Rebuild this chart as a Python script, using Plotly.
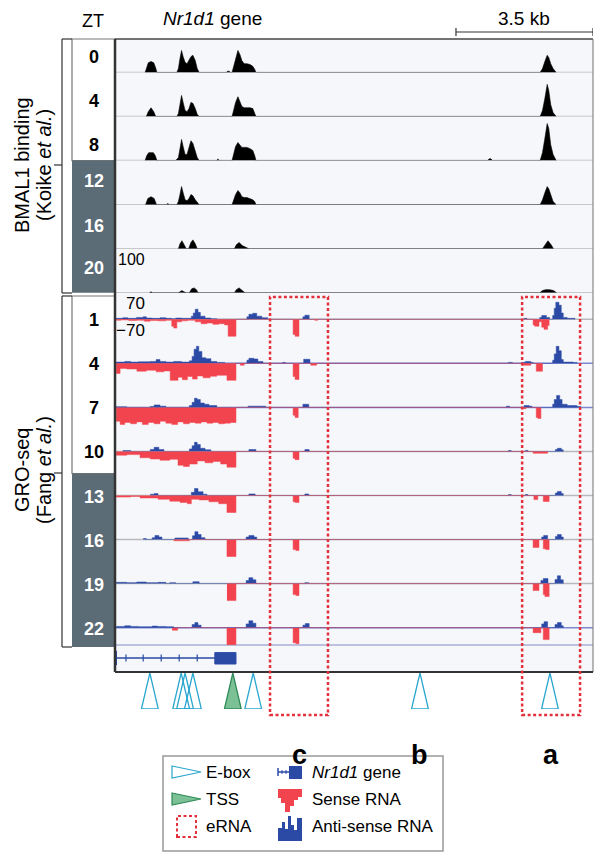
import plotly.graph_objects as go

W, H = 604, 864
PAGE_OFF = 8                      # default page body margin around the figure
FIG_W, FIG_H = W - PAGE_OFF, H - PAGE_OFF
FONT = "Liberation Sans, Arial, Helvetica, sans-serif"

# ------------------------------------------------------------------ data
KB_SPAN = 12.21          # genomic window shown (kb)
SCALE_BAR_KB = 3.5
BMAL_MAX = 100
GRO_MAX = 70

BMAL_ZT = ["0", "4", "8", "12", "16", "20"]
GRO_ZT = ["1", "4", "7", "10", "13", "16", "19", "22"]

# BMAL1 ChIP-seq profiles: (position kb, signal)
BMAL_ZT0 = [(0.77, 0), (0.80, 10), (0.85, 22), (0.92, 25), (0.99, 22), (1.04, 10), (1.07, 0),
            (1.58, 0), (1.62, 9), (1.66, 32), (1.70, 50), (1.74, 36), (1.79, 23), (1.84, 20), (1.89, 27),
            (1.94, 36), (1.99, 39), (2.05, 27), (2.10, 9), (2.15, 0),
            (2.86, 0), (2.87, 3), (2.92, 3), (2.93, 0),
            (2.99, 0), (3.03, 14), (3.08, 32), (3.14, 50), (3.19, 41), (3.24, 27), (3.30, 20), (3.37, 20),
            (3.45, 18), (3.52, 14), (3.57, 7), (3.60, 0),
            (10.86, 0), (10.92, 9), (10.98, 25), (11.04, 39), (11.08, 34), (11.13, 20), (11.19, 9), (11.27, 0)]
BMAL_ZT4 = [(0.80, 0), (0.85, 11), (0.92, 20), (0.99, 11), (1.04, 0),
            (1.58, 0), (1.62, 7), (1.66, 27), (1.70, 48), (1.74, 32), (1.79, 14), (1.84, 11), (1.89, 18),
            (1.94, 32), (1.99, 30), (2.05, 18), (2.10, 5), (2.15, 0),
            (2.99, 0), (3.03, 14), (3.08, 32), (3.14, 45), (3.19, 34), (3.24, 23), (3.30, 20), (3.37, 20),
            (3.45, 20), (3.52, 18), (3.57, 9), (3.60, 0),
            (10.86, 0), (10.92, 14), (10.98, 41), (11.04, 73), (11.08, 59), (11.13, 27), (11.19, 9), (11.27, 0)]
BMAL_ZT8 = [(0.77, 0), (0.81, 11), (0.86, 18), (0.92, 18), (0.98, 18), (1.03, 11), (1.07, 0),
            (1.55, 0), (1.62, 7), (1.66, 27), (1.70, 48), (1.74, 32), (1.79, 14), (1.84, 14), (1.89, 32),
            (1.94, 45), (1.99, 39), (2.05, 23), (2.10, 7), (2.15, 0),
            (2.61, 0), (2.63, 4), (2.65, 0),
            (2.99, 0), (3.03, 18), (3.08, 32), (3.14, 41), (3.19, 36), (3.24, 30), (3.30, 30), (3.37, 30),
            (3.45, 27), (3.52, 23), (3.57, 11), (3.60, 0),
            (9.52, 0), (9.56, 4), (9.60, 4), (9.64, 0),
            (10.86, 0), (10.92, 18), (10.98, 50), (11.04, 84), (11.08, 73), (11.13, 36), (11.19, 14), (11.27, 0)]
BMAL_ZT12 = [(0.78, 0), (0.84, 14), (0.92, 18), (1.00, 14), (1.06, 0),
             (1.33, 0), (1.35, 3), (1.37, 0),
             (1.58, 0), (1.62, 7), (1.66, 23), (1.70, 41), (1.74, 27), (1.79, 11), (1.84, 9), (1.89, 14),
             (1.94, 23), (1.99, 20), (2.05, 11), (2.10, 5), (2.15, 0),
             (2.99, 0), (3.03, 11), (3.08, 23), (3.14, 32), (3.19, 27), (3.24, 18), (3.30, 16), (3.37, 16),
             (3.45, 14), (3.52, 11), (3.57, 7), (3.60, 0),
             (10.86, 0), (10.92, 11), (10.98, 27), (11.04, 41), (11.08, 36), (11.13, 20), (11.19, 7), (11.27, 0)]
BMAL_ZT16 = [(1.62, 0), (1.66, 11), (1.71, 18), (1.76, 11), (1.82, 0),
             (1.88, 0), (1.94, 14), (1.99, 20), (2.05, 11), (2.10, 0),
             (3.05, 0), (3.10, 9), (3.17, 14), (3.25, 7), (3.35, 2), (3.42, 0),
             (10.92, 0), (10.98, 9), (11.06, 18), (11.14, 9), (11.20, 0)]
BMAL_ZT20 = [(0.88, 0), (0.92, 2), (0.96, 0),
             (1.62, 0), (1.66, 2), (1.71, 5), (1.76, 2), (1.82, 0),
             (1.90, 0), (1.96, 9), (2.02, 11), (2.08, 7), (2.12, 0),
             (3.05, 0), (3.10, 7), (3.17, 11), (3.25, 5), (3.32, 0),
             (10.85, 0), (10.92, 5), (11.00, 7), (11.10, 7), (11.20, 5), (11.28, 0)]
BMAL_TRACKS = [BMAL_ZT0, BMAL_ZT4, BMAL_ZT8, BMAL_ZT12, BMAL_ZT16, BMAL_ZT20]

# GRO-seq step profiles: (segment start kb, value held until next start)
GRO_ZT1_ANTI = [(0.03, 3), (0.20, 5), (0.33, 3), (0.55, 6), (0.72, 8), (0.80, 4), (0.95, 3), (1.15, 5),
                (1.30, 3), (1.45, 2), (1.55, 4), (1.70, 3), (1.95, 10), (2.00, 20), (2.05, 32), (2.12, 22),
                (2.18, 10), (2.30, 4), (2.45, 2), (2.60, 0), (3.37, 8), (3.42, 16), (3.52, 19), (3.62, 10),
                (3.75, 5), (3.90, 0), (4.80, 8), (4.85, 13), (4.96, 0), (10.45, 3), (10.52, 0),
                (10.85, 6), (10.90, 12), (11.02, 6), (11.10, 0), (11.18, 12), (11.22, 35), (11.26, 54),
                (11.34, 45), (11.40, 20), (11.45, 6), (11.55, 3), (11.75, 0)]
GRO_ZT1_SENSE = [(0.03, -3), (0.15, -2), (0.35, -4), (0.55, -3), (0.75, -6), (0.90, -4), (1.10, -5),
                 (1.30, -3), (1.45, -22), (1.50, -28), (1.58, -8), (1.70, -5), (1.85, -3), (2.05, -8),
                 (2.20, -14), (2.35, -12), (2.50, -16), (2.65, -14), (2.80, -18), (2.89, -54), (3.09, 0),
                 (4.55, -48), (4.60, -54), (4.70, 0), (5.10, -3), (5.18, 0), (10.68, -18), (10.72, -22),
                 (10.83, -8), (10.90, -25), (10.96, -32), (11.05, -20), (11.09, 0)]
GRO_ZT4_ANTI = [(0.03, 4), (0.25, 6), (0.40, 4), (0.60, 5), (0.90, 6), (1.05, 12), (1.15, 6), (1.30, 4),
                (1.50, 6), (1.70, 4), (1.90, 8), (1.97, 22), (2.02, 45), (2.08, 54), (2.14, 38), (2.22, 18),
                (2.32, 15), (2.45, 6), (2.60, 3), (2.80, 0), (3.37, 10), (3.42, 16), (3.55, 14), (3.65, 6),
                (3.78, 0), (4.28, 3), (4.35, 0), (4.82, 13), (4.98, 0), (10.05, 3), (10.15, 0), (10.40, 3),
                (10.48, 6), (10.62, 3), (10.68, 0), (11.18, 10), (11.22, 30), (11.27, 54), (11.34, 40),
                (11.40, 12), (11.45, 4), (11.70, 3), (11.80, 0)]
GRO_ZT4_SENSE = [(0.03, -32), (0.13, -16), (0.30, -18), (0.56, -25), (0.80, -22), (1.05, -27),
                 (1.25, -24), (1.41, -54), (1.61, -44), (1.72, -52), (1.85, -42), (1.98, -50), (2.10, -40),
                 (2.25, -46), (2.43, -41), (2.60, -38), (2.86, -54), (3.09, 0), (3.20, -6), (3.30, 0),
                 (4.55, -42), (4.60, -51), (4.70, 0), (5.00, -6), (5.15, 0), (10.40, -6), (10.62, 0),
                 (10.76, -25), (10.92, 0)]
GRO_ZT7_ANTI = [(0.03, 2), (0.30, 0), (0.90, 3), (1.00, 8), (1.15, 4), (1.30, 0), (1.90, 6), (1.97, 16),
                (2.03, 29), (2.10, 25), (2.18, 14), (2.28, 10), (2.40, 6), (2.60, 0), (3.40, 4), (3.85, 0),
                (4.80, 10), (4.95, 0), (10.00, 4), (10.08, 0), (10.45, 6), (10.58, 4), (10.65, 0),
                (11.18, 10), (11.22, 25), (11.28, 38), (11.36, 25), (11.42, 10), (11.55, 6), (11.80, 3),
                (11.90, 0)]
GRO_ZT7_SENSE = [(0.03, -44), (0.13, -54), (0.25, -48), (0.40, -52), (0.55, -46), (0.70, -54),
                 (0.85, -48), (1.00, -52), (1.15, -44), (1.30, -50), (1.45, -54), (1.60, -46), (1.75, -52),
                 (1.90, -48), (2.05, -50), (2.20, -46), (2.35, -50), (2.50, -48), (2.65, -52), (2.80, -50),
                 (2.95, -48), (3.09, 0), (4.55, -25), (4.60, -32), (4.68, 0), (10.40, -4), (10.50, 0),
                 (10.76, -32), (10.80, -35), (10.88, 0)]
GRO_ZT10_ANTI = [(0.20, 3), (0.40, 0), (0.90, 6), (1.00, 13), (1.12, 6), (1.25, 0), (1.90, 8), (1.97, 18),
                 (2.03, 29), (2.10, 22), (2.18, 10), (2.30, 5), (2.45, 0), (3.42, 6), (3.60, 0), (4.85, 6),
                 (4.96, 0), (10.05, 3), (10.12, 0), (10.48, 3), (10.55, 0), (11.25, 6), (11.30, 10),
                 (11.40, 5), (11.45, 0)]
GRO_ZT10_SENSE = [(0.03, -12), (0.30, -10), (0.64, -20), (0.90, -24), (1.15, -28), (1.40, -25),
                  (1.61, -44), (1.75, -48), (1.90, -40), (2.10, -30), (2.30, -36), (2.50, -32), (2.70, -40),
                  (2.86, -50), (3.09, 0), (4.55, -22), (4.60, -26), (4.70, 0), (10.68, -6), (11.05, 0)]
GRO_ZT13_ANTI = [(0.90, 4), (1.00, 6), (1.10, 0), (1.95, 10), (2.03, 22), (2.12, 12), (2.25, 4), (2.35, 0),
                 (3.42, 5), (3.58, 0), (4.85, 5), (4.95, 0), (10.05, 3), (10.12, 0), (10.48, 3), (10.55, 0),
                 (11.25, 8), (11.30, 13), (11.40, 6), (11.45, 0)]
GRO_ZT13_SENSE = [(0.03, -5), (0.40, -3), (0.64, -8), (1.10, -12), (1.40, -18), (1.66, -22), (1.85, -26),
                  (1.95, -12), (2.15, -14), (2.40, -20), (2.65, -26), (2.86, -54), (3.09, 0), (4.55, -20),
                  (4.60, -22), (4.70, 0), (10.70, -13), (10.80, 0), (10.94, -19), (11.09, 0)]
GRO_ZT16_ANTI = [(0.72, 3), (0.80, 0), (0.95, 6), (1.02, 13), (1.12, 8), (1.20, 0), (1.53, 5), (1.87, 0),
                 (1.98, 12), (2.04, 25), (2.12, 16), (2.20, 6), (2.30, 0), (3.35, 8), (3.42, 13), (3.55, 8),
                 (3.62, 0), (10.90, 8), (10.95, 13), (11.05, 0), (11.25, 10), (11.30, 16), (11.40, 8),
                 (11.45, 0)]
GRO_ZT16_SENSE = [(1.50, -4), (1.90, 0), (2.86, -54), (3.09, 0), (4.55, -32), (4.62, -35), (4.70, 0),
                  (10.68, -25), (10.83, 0), (10.94, -29), (11.00, -32), (11.09, 0)]
GRO_ZT19_ANTI = [(0.03, 4), (0.30, 3), (0.55, 5), (0.80, 3), (1.10, 4), (1.30, 0), (1.40, 3), (1.55, 0),
                 (1.99, 6), (2.15, 0), (3.35, 10), (3.42, 19), (3.52, 12), (3.60, 0), (4.85, 3), (4.95, 0),
                 (10.88, 10), (10.94, 16), (11.06, 0), (11.24, 13), (11.30, 25), (11.38, 12), (11.45, 0)]
GRO_ZT19_SENSE = [(2.86, -54), (3.09, 0), (4.55, -35), (4.62, -38), (4.70, 0), (10.68, -22), (10.83, 0),
                  (10.94, -35), (10.98, -41), (11.09, 0)]
GRO_ZT22_ANTI = [(0.03, 4), (0.25, 6), (0.40, 4), (0.60, 3), (0.95, 5), (1.08, 4), (1.30, 3), (1.50, 0),
                 (1.97, 10), (2.04, 16), (2.12, 8), (2.20, 0), (3.35, 12), (3.42, 22), (3.52, 14), (3.60, 0),
                 (4.80, 8), (4.86, 13), (4.96, 0), (10.90, 12), (10.96, 19), (11.05, 0), (11.24, 10),
                 (11.30, 16), (11.40, 6), (11.45, 0)]
GRO_ZT22_SENSE = [(1.46, -8), (1.60, 0), (2.86, -54), (3.09, 0), (4.55, -48), (4.62, -51), (4.70, 0),
                  (10.68, -16), (10.88, 0), (10.94, -38), (11.09, 0)]
GRO_ANTI = [GRO_ZT1_ANTI, GRO_ZT4_ANTI, GRO_ZT7_ANTI, GRO_ZT10_ANTI,
            GRO_ZT13_ANTI, GRO_ZT16_ANTI, GRO_ZT19_ANTI, GRO_ZT22_ANTI]
GRO_SENSE = [GRO_ZT1_SENSE, GRO_ZT4_SENSE, GRO_ZT7_SENSE, GRO_ZT10_SENSE,
             GRO_ZT13_SENSE, GRO_ZT16_SENSE, GRO_ZT19_SENSE, GRO_ZT22_SENSE]

EBOX_KB = [0.89, 1.69, 1.79, 1.99, 3.53, 7.79, 11.11]
TSS_KB = [3.01]
ERNA_KB = [(3.96, 5.44), (10.40, 11.88)]
REGION_LABELS = ["c", "b", "a"]
REGION_LABEL_KB = [4.70, 7.79, 11.14]
GENE_INTRON_KB = (0.0, 2.55)
GENE_EXON_KB = (2.55, 3.09)
GENE_TICKS_KB = [0.28, 0.72, 1.18, 1.64, 2.10]

# ------------------------------------------------------------------ style / layout constants (screen pixels)
PANEL_L, PANEL_R, PANEL_T, PANEL_B = 115, 593, 39, 672
ROW_H = 44.05
BMAL_BASE0 = 72.5
GRO_BASE0 = 319.3
BMAL_LABEL_Y = [57, 101, 145, 181, 226, 268]
ZT_COL_L = 72
BLUE = "#2b4aa6"
RED = "#f2444f"
SLATE = "#5c6c77"
EBOX_C = "#2aa6cf"
TSS_FILL = "#7cc196"
TSS_LINE = "#2e8b57"
ERNA_C = "#e3313c"
PANEL_BG = "#f6f7fa"
GRAY_LINE = "#b9b9bd"
LAV_LINE = "#7d88cf"
TRI_HALF_KB = 0.215


def pxf(p):
    return (p - PAGE_OFF) / FIG_W


def pyf(p):
    return 1 - (p - PAGE_OFF) / FIG_H


fig = go.Figure()
axes = {}
shapes = []
annotations = []
_n = [0]


def new_axis(top_px, bot_px, rng):
    _n[0] += 1
    k = _n[0]
    key = "yaxis" if k == 1 else f"yaxis{k}"
    axes[key] = dict(domain=[pyf(bot_px), pyf(top_px)], range=rng, visible=False,
                     anchor="x", fixedrange=True)
    return "y" if k == 1 else f"y{k}"


def ann(text, x, y, size=16, color="black", xanchor="center", angle=0, xref="paper", bold=False):
    if bold:
        text = f"<b>{text}</b>"
    annotations.append(dict(text=text, x=(pxf(x) if xref == "paper" else x), y=pyf(y),
                            xref=xref, yref="paper", showarrow=False, xanchor=xanchor,
                            yanchor="middle", textangle=angle,
                            font=dict(family=FONT, size=size, color=color)))


def rect_px(x0, y0, x1, y1, fill=None, line=None, lw=1, layer="above", dash=None):
    shapes.append(dict(type="rect", xref="paper", yref="paper", x0=pxf(x0), x1=pxf(x1),
                       y0=pyf(y1), y1=pyf(y0), fillcolor=fill or "rgba(0,0,0,0)",
                       line=dict(color=line or "rgba(0,0,0,0)", width=lw if line else 0, dash=dash),
                       layer=layer))


def line_px(x0, y0, x1, y1, color="black", lw=1, layer="above"):
    shapes.append(dict(type="line", xref="paper", yref="paper", x0=pxf(x0), x1=pxf(x1),
                       y0=pyf(y0), y1=pyf(y1), line=dict(color=color, width=lw), layer=layer))


def path_px(pts, fill=None, line=None, lw=1):
    d = "M" + " L".join(f"{pxf(x):.5f},{pyf(y):.5f}" for x, y in pts) + " Z"
    shapes.append(dict(type="path", xref="paper", yref="paper", path=d,
                       fillcolor=fill or "rgba(0,0,0,0)",
                       line=dict(color=line or "rgba(0,0,0,0)", width=lw if line else 0)))


# panel background and ZT column boxes
rect_px(PANEL_L, PANEL_T, PANEL_R, PANEL_B, fill=PANEL_BG, layer="below")
rect_px(ZT_COL_L, PANEL_T, PANEL_L, BMAL_BASE0 + 2 * ROW_H, fill="white", line="#777", lw=1.2)
rect_px(ZT_COL_L, BMAL_BASE0 + 2 * ROW_H, PANEL_L, BMAL_BASE0 + 5 * ROW_H, fill=SLATE)
rect_px(ZT_COL_L, 296, PANEL_L, GRO_BASE0 + 3.5 * ROW_H, fill="white", line="#777", lw=1.2)
rect_px(ZT_COL_L, GRO_BASE0 + 3.5 * ROW_H, PANEL_L, 647, fill=SLATE)

# BMAL1 tracks
for i, (zt, prof) in enumerate(zip(BMAL_ZT, BMAL_TRACKS)):
    base = BMAL_BASE0 + i * ROW_H
    ax = new_axis(base - ROW_H, base, [0, BMAL_MAX])
    shapes.append(dict(type="line", xref="x domain", yref=ax, x0=0, x1=1, y0=0, y1=0,
                       line=dict(color=GRAY_LINE, width=1.5), layer="below"))
    fig.add_trace(go.Scatter(x=[p[0] for p in prof], y=[p[1] for p in prof], mode="lines",
                             line=dict(color="black", width=0.6), fill="tozeroy", fillcolor="black",
                             xaxis="x", yaxis=ax, hoverinfo="skip"))
    ann(zt, 94, BMAL_LABEL_Y[i], size=18, bold=True, color="black" if i < 3 else "white")

# GRO-seq tracks
GRO_LINE_COLORS = [GRAY_LINE, LAV_LINE, LAV_LINE, GRAY_LINE, GRAY_LINE, GRAY_LINE, GRAY_LINE, LAV_LINE]
for i, zt in enumerate(GRO_ZT):
    base = GRO_BASE0 + i * ROW_H
    ax = new_axis(base - ROW_H / 2, base + ROW_H / 2, [-GRO_MAX, GRO_MAX])
    shapes.append(dict(type="line", xref="x domain", yref=ax, x0=0, x1=1, y0=0, y1=0,
                       line=dict(color=GRO_LINE_COLORS[i], width=1.5), layer="below"))
    for prof, col in ((GRO_ANTI[i], BLUE), (GRO_SENSE[i], RED)):
        fig.add_trace(go.Scatter(x=[p[0] for p in prof], y=[p[1] for p in prof], mode="lines",
                                 line=dict(color=col, width=0.5, shape="hv"), fill="tozeroy",
                                 fillcolor=col, xaxis="x", yaxis=ax, hoverinfo="skip"))
    ann(zt, 94, base + 1, size=18, bold=True, color="black" if i < 4 else "white")

# gene model track
line_px(PANEL_L, 645, PANEL_R, 645, color="#a9afd6", lw=1.5, layer="below")
gax = new_axis(646, 670, [-1, 1])
shapes.append(dict(type="line", xref="x", yref=gax, x0=GENE_INTRON_KB[0], x1=GENE_INTRON_KB[1],
                   y0=0, y1=0, line=dict(color=BLUE, width=1.5)))
for t in GENE_TICKS_KB:
    shapes.append(dict(type="line", xref="x", yref=gax, x0=t, x1=t, y0=-0.3, y1=0.3,
                       line=dict(color=BLUE, width=1.2)))
shapes.append(dict(type="line", xref="x", yref=gax, x0=GENE_INTRON_KB[0] + 0.02,
                   x1=GENE_INTRON_KB[0] + 0.02, y0=-0.6, y1=0.6, line=dict(color=BLUE, width=2.5)))
shapes.append(dict(type="rect", xref="x", yref=gax, x0=GENE_EXON_KB[0], x1=GENE_EXON_KB[1],
                   y0=-0.5, y1=0.45, fillcolor=BLUE, line=dict(color=BLUE, width=1)))

# E-boxes and TSS
eax = new_axis(673, 709, [0, 1])
tx, ty = [], []
for p in EBOX_KB:
    tx += [p - TRI_HALF_KB, p, p + TRI_HALF_KB, p - TRI_HALF_KB, None]
    ty += [0, 1, 0, 0, None]
fig.add_trace(go.Scatter(x=tx, y=ty, mode="lines", line=dict(color=EBOX_C, width=1.3),
                         xaxis="x", yaxis=eax, hoverinfo="skip", cliponaxis=False))
sx, sy = [], []
for p in TSS_KB:
    sx += [p - TRI_HALF_KB, p, p + TRI_HALF_KB, p - TRI_HALF_KB, None]
    sy += [0, 1, 0, 0, None]
fig.add_trace(go.Scatter(x=sx, y=sy, mode="lines", fill="toself", fillcolor=TSS_FILL,
                         line=dict(color=TSS_LINE, width=1.3), xaxis="x", yaxis=eax,
                         hoverinfo="skip", cliponaxis=False))

# panel borders
line_px(PANEL_L, PANEL_T, PANEL_R, PANEL_T, color="#444", lw=1.5)
line_px(PANEL_R, PANEL_T, PANEL_R, PANEL_B, color="#888", lw=1.2)
line_px(PANEL_L, PANEL_B, PANEL_R, PANEL_B, color="#333", lw=1.8)
line_px(PANEL_L, PANEL_T, PANEL_L, PANEL_B, color="#333", lw=2.5)

# eRNA dashed boxes
for a, b in ERNA_KB:
    shapes.append(dict(type="rect", xref="x", yref="paper", x0=a, x1=b, y0=pyf(715), y1=pyf(297),
                       line=dict(color=ERNA_C, width=2.5, dash="3px,2.5px"), fillcolor="rgba(0,0,0,0)"))
for lab, kb in zip(REGION_LABELS, REGION_LABEL_KB):
    ann(lab, kb, 755, size=27, bold=True, xref="x")

# brackets at left
for top, bot, mid in ((39, 293, 165), (296, 647, 473)):
    line_px(62, top, 72, top, color="#333", lw=1.2)
    line_px(62, bot, 72, bot, color="#333", lw=1.2)
    line_px(62, top, 62, bot, color="#333", lw=1.2)
    line_px(54, mid, 62, mid, color="#333", lw=1.2)

ann("BMAL1 binding", 22, 165, size=20, angle=-90)
ann("(Koike <i>et al.</i>)", 44, 165, size=20, angle=-90)
ann("GRO-seq", 22, 470, size=20, angle=-90)
ann("(Fang <i>et al.</i>)", 44, 470, size=20, angle=-90)

# header
ann("ZT", 93, 21, size=18)
ann("<i>Nr1d1</i> gene", 213, 19, size=19)
shapes.append(dict(type="line", xref="x", yref="paper", x0=KB_SPAN - SCALE_BAR_KB, x1=KB_SPAN,
                   y0=pyf(32), y1=pyf(32), line=dict(color="#333", width=1.2)))
for e in (KB_SPAN - SCALE_BAR_KB, KB_SPAN):
    shapes.append(dict(type="line", xref="x", yref="paper", x0=e, x1=e, y0=pyf(28), y1=pyf(36),
                       line=dict(color="#333", width=1.2)))
ann(f"{SCALE_BAR_KB} kb", KB_SPAN - SCALE_BAR_KB / 2, 19, size=19, xref="x")

# scale annotations
ann(str(BMAL_MAX), 116, 260, size=16, xanchor="left")
ann(str(GRO_MAX), 124, 303, size=17, xanchor="left")
ann(f"\u2212{GRO_MAX}", 114, 331, size=17, xanchor="left")

# legend
rect_px(163, 756, 443, 851, fill="white", line="#999", lw=1.5)
path_px([(172, 766), (201, 772), (172, 778)], fill="white", line=EBOX_C, lw=1.2)
path_px([(172, 793), (201, 799), (172, 805)], fill=TSS_FILL, line=TSS_LINE, lw=1.2)
rect_px(177, 816, 196, 837, line=ERNA_C, lw=2, dash="3px,2.5px")
ann("E-box", 204, 772, size=17, xanchor="left")
ann("TSS", 204, 799, size=17, xanchor="left")
ann("eRNA", 204, 826, size=17, xanchor="left")
line_px(278, 772, 290, 772, color=BLUE, lw=1.5)
line_px(278, 768, 278, 776, color=BLUE, lw=1.5)
line_px(282, 770, 282, 774, color=BLUE, lw=1)
line_px(286, 770, 286, 774, color=BLUE, lw=1)
rect_px(289, 766, 302, 779, fill=BLUE)
path_px([(278, 789), (302, 789), (302, 797), (298, 797), (298, 800), (294, 800), (294, 806), (290, 806),
         (290, 812), (285, 812), (285, 803), (281, 803), (281, 798), (278, 798)], fill=RED)
path_px([(278, 841), (278, 828), (282, 828), (282, 822), (285, 822), (285, 829), (288, 829), (288, 816),
         (291, 816), (291, 825), (294, 825), (294, 830), (297, 830), (297, 818), (302, 818), (302, 841)],
        fill=BLUE)
ann("<i>Nr1d1</i> gene", 310, 772, size=17, xanchor="left")
ann("Sense RNA", 310, 799, size=17, xanchor="left")
ann("Anti-sense RNA", 310, 826, size=17, xanchor="left")

fig.update_layout(
    width=FIG_W, height=FIG_H, margin=dict(l=0, r=0, t=0, b=0),
    paper_bgcolor="white", plot_bgcolor="rgba(0,0,0,0)", showlegend=False,
    xaxis=dict(domain=[pxf(PANEL_L), pxf(PANEL_R)], range=[0, KB_SPAN], visible=False, fixedrange=True),
    shapes=shapes, annotations=annotations, font=dict(family=FONT),
    **axes,
)
fig.write_html("out.html")
